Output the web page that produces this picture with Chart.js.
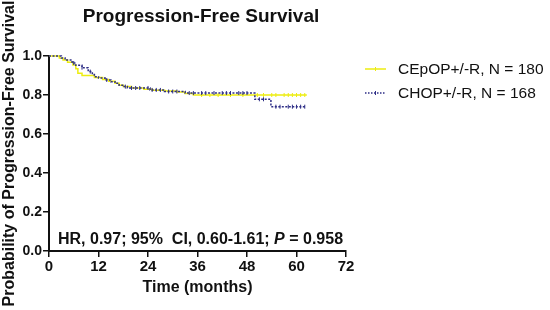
<!DOCTYPE html>
<html><head><meta charset="utf-8">
<script src="https://cdn.jsdelivr.net/npm/chart.js@4/dist/chart.umd.min.js"></script>
<style>html,body{margin:0;padding:0;background:#fff;}</style>
</head><body>
<canvas id="c" width="550" height="310"></canvas>
<script>
// ---- data ----
const chartTitle = 'Progression-Free Survival';
const xTitle = 'Time (months)';
const yTitle = 'Probability of Progression-Free Survival';
const seriesNames = ['CEpOP+/-R, N = 180', 'CHOP+/-R, N = 168'];
const xTicks = [0, 12, 24, 36, 48, 60, 72];
const yTicks = [0.0, 0.2, 0.4, 0.6, 0.8, 1.0];

const cepopTime = [0, 2.5, 3.4, 4.5, 5.8, 6.5, 7.0, 8, 11, 13, 14.5, 16, 17, 18, 20, 23, 25, 28, 31, 33, 35, 62.5];
const cepopSurv = [1.0, 0.99, 0.979, 0.968, 0.954, 0.935, 0.911, 0.90, 0.89, 0.88, 0.87, 0.86, 0.85, 0.843, 0.836, 0.83, 0.825, 0.82, 0.815, 0.808, 0.80, 0.80];
const cepopCensor = [37, 39, 41, 44, 47, 50.5, 52, 54, 55, 57, 58, 59, 60, 61, 62];

const chopTime = [0, 3, 3.9, 5.6, 6.5, 8, 9.5, 10.5, 11, 12, 13.6, 15, 16, 17, 18, 19, 24.5, 28, 33, 49.9, 53.8, 62.3];
const chopSurv = [1.0, 0.99, 0.98, 0.964, 0.952, 0.94, 0.92, 0.905, 0.894, 0.887, 0.877, 0.868, 0.86, 0.85, 0.843, 0.836, 0.826, 0.818, 0.81, 0.778, 0.74, 0.74];
const chopCensor = [6, 8, 10, 14, 18.5, 20, 21, 22, 24, 25, 26, 27, 29, 30, 31, 34, 35, 37, 38, 40, 42, 43, 44, 46, 47, 48, 51, 52, 55, 56, 58, 59, 60, 61, 62];

const colYellow = '#eded10';
const colBlue = '#2e2e86';

function stepAt(times, surv, t) {
  let v = surv[0];
  for (let i = 0; i < times.length; i++) { if (times[i] <= t) v = surv[i]; }
  return v;
}
const toPts = (ts, ss) => ts.map((t, i) => ({x: t, y: ss[i]}));
const censorPts = (cs, ts, ss) => cs.map(t => ({x: t, y: stepAt(ts, ss, t)}));

const FONT = '"Liberation Sans", Arial, Helvetica, sans-serif';

const overlay = {
  id: 'overlay',
  afterDraw(chart) {
    const ctx = chart.ctx;
    ctx.save();
    // title
    ctx.fillStyle = '#111';
    ctx.font = 'bold 19px ' + FONT;
    ctx.textAlign = 'center';
    ctx.textBaseline = 'alphabetic';
    ctx.fillText(chartTitle, 201, 22);
    // legend
    const items = [
      {name: seriesNames[0], color: colYellow, dash: [], y: 69},
      {name: seriesNames[1], color: colBlue, dash: [1.5, 1.5], y: 93}
    ];
    items.forEach(it => {
      ctx.strokeStyle = it.color;
      ctx.lineWidth = 1.5;
      ctx.setLineDash(it.dash);
      ctx.beginPath(); ctx.moveTo(365, it.y); ctx.lineTo(386, it.y); ctx.stroke();
      ctx.setLineDash([]);
      ctx.lineWidth = 1;
      ctx.beginPath(); ctx.moveTo(375.5, it.y - 2); ctx.lineTo(375.5, it.y + 2); ctx.stroke();
      ctx.fillStyle = '#111';
      ctx.font = '15.5px ' + FONT;
      ctx.textAlign = 'left';
      ctx.textBaseline = 'middle';
      ctx.fillText(it.name, 398, it.y + 0.5);
    });
    // annotation
    ctx.textBaseline = 'alphabetic';
    ctx.textAlign = 'left';
    let x = 58; const y = 243.5;
    const parts = [
      ['bold 16px ', 'HR, 0.97; 95%  CI, 0.60-1.61; '],
      ['italic bold 16px ', 'P'],
      ['bold 16px ', ' = 0.958']
    ];
    parts.forEach(p => {
      ctx.font = p[0] + FONT;
      ctx.fillText(p[1], x, y);
      x += ctx.measureText(p[1]).width;
    });
    ctx.restore();
  }
};

new Chart(document.getElementById('c'), {
  type: 'line',
  data: {
    datasets: [
      {label: seriesNames[1], data: toPts(chopTime, chopSurv), borderColor: colBlue, borderWidth: 1.5,
       borderDash: [2, 1.5], stepped: 'before', pointRadius: 0, fill: false, order: 0, clip: false},
      {label: seriesNames[1] + ' censored', data: censorPts(chopCensor, chopTime, chopSurv), showLine: false,
       pointStyle: 'line', rotation: 90, pointRadius: 2, borderColor: colBlue, borderWidth: 1, order: 0, clip: false},
      {label: seriesNames[0], data: toPts(cepopTime, cepopSurv), borderColor: colYellow, borderWidth: 1.5,
       stepped: 'before', pointRadius: 0, fill: false, order: 1, clip: false},
      {label: seriesNames[0] + ' censored', data: censorPts(cepopCensor, cepopTime, cepopSurv), showLine: false,
       pointStyle: 'line', rotation: 90, pointRadius: 2, borderColor: colYellow, borderWidth: 1, order: 1, clip: false}
    ]
  },
  options: {
    responsive: false,
    animation: false,
    devicePixelRatio: 1,
    layout: {padding: {left: 0, right: 204, top: 56, bottom: 0}},
    plugins: {legend: {display: false}, tooltip: {enabled: false}, title: {display: false}},
    elements: {point: {hoverRadius: 0}},
    scales: {
      x: {
        type: 'linear', min: 0, max: 72,
        afterBuildTicks: s => { s.ticks = xTicks.map(v => ({value: v})); },
        ticks: {color: '#111', font: {family: FONT, size: 15, weight: 'bold'}, padding: 1, maxRotation: 0, autoSkip: false},
        grid: {drawOnChartArea: false, tickLength: 6, color: '#111', lineWidth: 1.5},
        border: {display: true, color: '#111', width: 2},
        title: {display: true, text: xTitle, color: '#111', font: {family: FONT, size: 16, weight: 'bold'}, padding: {top: 0, bottom: 13}},
        afterFit: s => { s.height = 59; }
      },
      y: {
        type: 'linear', min: 0, max: 1,
        afterBuildTicks: s => { s.ticks = yTicks.map(v => ({value: v})); },
        ticks: {color: '#111', font: {family: FONT, size: 14, weight: 'bold'}, padding: 1,
                callback: v => Number(v).toFixed(1)},
        grid: {drawOnChartArea: false, tickLength: 6, color: '#111', lineWidth: 1.5},
        border: {display: true, color: '#111', width: 2},
        title: {display: true, text: yTitle, color: '#111', font: {family: FONT, size: 16, weight: 'bold'}, padding: {top: 0, bottom: 0}},
        afterFit: s => { s.width = 49; }
      }
    }
  },
  plugins: [overlay]
});
</script>
</body></html>
